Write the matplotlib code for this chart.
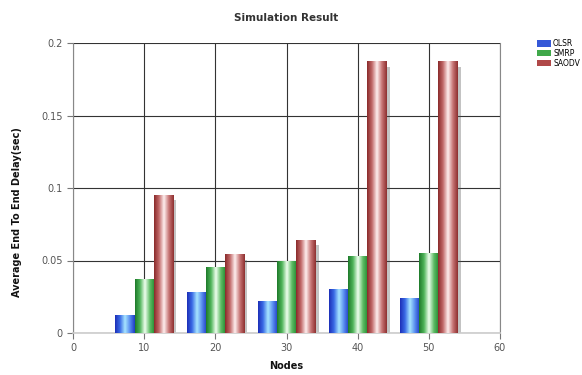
import numpy as np
import matplotlib
matplotlib.use("Agg")
import matplotlib.pyplot as plt
from matplotlib.patches import Rectangle, Patch
from matplotlib.colors import LinearSegmentedColormap

nodes = [10, 20, 30, 40, 50]
series = ["OLSR", "SMRP", "SAODV"]
olsr = [0.012, 0.028, 0.022, 0.030, 0.024]
smrp = [0.037, 0.045, 0.049, 0.053, 0.055]
saodv = [0.095, 0.054, 0.064, 0.187, 0.187]
values = [olsr, smrp, saodv]

gradients = {
    "OLSR": ["#1c2fb8", "#3a6be6", "#a8e6ff", "#5a8ef0", "#1f3cc4"],
    "SMRP": ["#1e7a2a", "#4fb55a", "#f0fff0", "#5fbd66", "#248a30"],
    "SAODV": ["#8a2a2a", "#c26a6a", "#fff0f0", "#c87676", "#8e3030"],
}
legend_colors = {"OLSR": "#3558d8", "SMRP": "#3fa84a", "SAODV": "#b04848"}

fig = plt.figure(figsize=(5.82, 3.75), dpi=100)
ax = fig.add_axes([73/582, 1-333/375, (500-73)/582, (333-43)/375])

width = 2.7
offsets = [-width, 0, width]
grad = np.linspace(0, 1, 64).reshape(1, -1)
for s, vals, off in zip(series, values, offsets):
    cmap = LinearSegmentedColormap.from_list(s, gradients[s])
    for x, v in zip(nodes, vals):
        x0 = x + off - width/2
        # shadow
        ax.add_patch(Rectangle((x0 + 0.45, -0.0015), width, v - 0.002,
                               facecolor="#555555", alpha=0.35, lw=0, zorder=2))
        ax.imshow(grad, cmap=cmap, extent=(x0, x0 + width, 0, v),
                  aspect="auto", zorder=3, interpolation="bilinear")

ax.set_xlim(0, 60)
ax.set_ylim(0, 0.2)
ax.set_xticks([0, 10, 20, 30, 40, 50, 60])
ax.set_yticks([0, 0.05, 0.1, 0.15, 0.2])
ax.set_yticklabels(["0", "0.05", "0.1", "0.15", "0.2"])
ax.grid(True, color="#333333", lw=0.8, zorder=1)
ax.set_axisbelow(True)
ax.spines["top"].set_visible(False)
ax.spines["left"].set_color("#888888")
ax.spines["right"].set_color("#888888")
ax.spines["bottom"].set_color("#cccccc")
ax.spines["bottom"].set_linewidth(1.2)
ax.tick_params(axis="both", colors="#777777", labelcolor="#555555",
               labelsize=7, length=4, width=0.8)

fig.text(286/582, 1-18/375, "Simulation Result", fontsize=7.5, fontweight="bold",
         color="#333333", ha="center", va="center")
fig.text(286/582, 1-366/375, "Nodes", fontsize=7, fontweight="bold",
         color="#111111", ha="center", va="center")
fig.text(17/582, 1-212/375, "Average End To End Delay(sec)", fontsize=7,
         fontweight="bold", color="#111111", ha="center", va="center",
         rotation=90)

handles = [Patch(facecolor=legend_colors[s], edgecolor="none", label=s) for s in series]
fig.legend(handles=handles, loc="upper left", bbox_to_anchor=(534/582, 1-36/375),
           frameon=False, fontsize=5.5, handlelength=1.8, handleheight=0.9,
           handletextpad=0.3, labelspacing=0.1, borderaxespad=0)

fig.savefig("out.png", dpi=100)
